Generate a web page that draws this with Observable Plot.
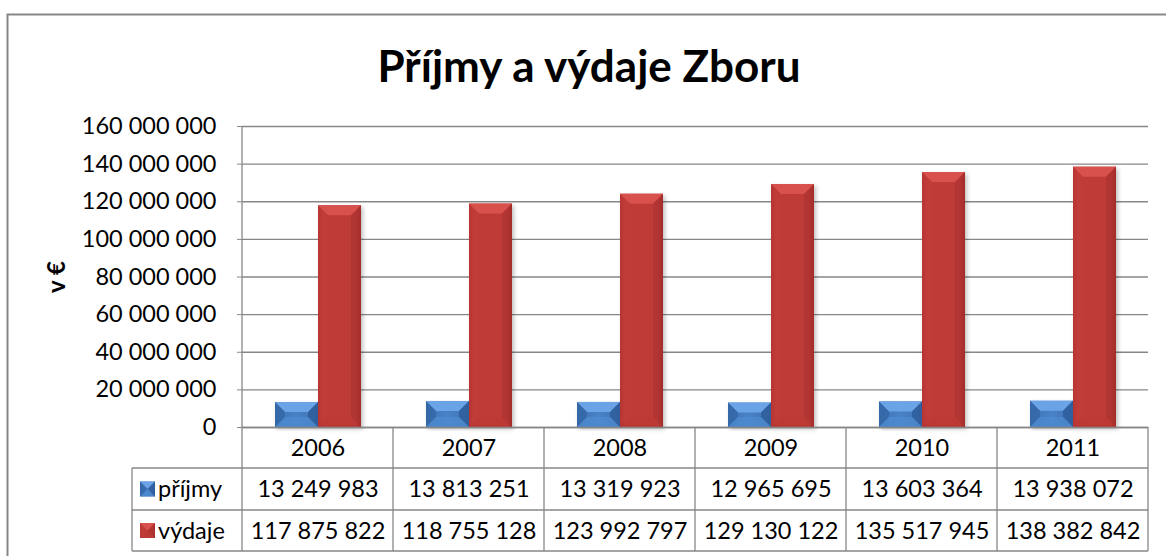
<!DOCTYPE html>
<html>
<head>
<meta charset="utf-8">
<script src="https://cdn.jsdelivr.net/npm/d3@7"></script>
<script src="https://cdn.jsdelivr.net/npm/@observablehq/plot@0.6"></script>
<style>
  html, body { margin: 0; padding: 0; background: white; }
  svg { display: block; }
</style>
</head>
<body>
<div id="chart"></div>
<script>
const title = "Příjmy a výdaje Zboru";
const yLabel = "v €";
const years = ["2006", "2007", "2008", "2009", "2010", "2011"];
const seriesNames = ["příjmy", "výdaje"];
const prijmy = [13249983, 13813251, 13319923, 12965695, 13603364, 13938072];
const vydaje = [117875822, 118755128, 123992797, 129130122, 135517945, 138382842];
const yTicks = [0, 20000000, 40000000, 60000000, 80000000, 100000000, 120000000, 140000000, 160000000];

const seriesValues = [prijmy, vydaje];
const data = years.flatMap((y, i) => seriesNames.map((s, k) => ({year: y, series: s, value: seriesValues[k][i]})));
const fmt = v => d3.format(",d")(v).replace(/,/g, " ");

const grid = "#878787";
const W = 1166, H = 556;
const mL = 240, mR = 17, mT = 126, mB = 129;
const rowH = [41, 42, 41]; // table rows heights

const fills = {"příjmy": "url(#gBlue)", "výdaje": "url(#gRed)"};

const plot = Plot.plot({
  width: W, height: H,
  marginLeft: mL, marginRight: mR, marginTop: mT, marginBottom: mB,
  style: {fontFamily: "Lato, 'Open Sans', sans-serif", fontSize: "23px", color: "black", background: "white", overflow: "visible"},
  fx: {domain: years, padding: 0, axis: null},
  x: {domain: seriesNames, paddingInner: 0, paddingOuter: 0.72, axis: null},
  y: {domain: [0, 160000000], axis: null},
  marks: [
    Plot.gridY(yTicks, {stroke: grid, strokeOpacity: 1, strokeWidth: 1.3}),
    Plot.axisY(yTicks, {tickFormat: fmt, tickSize: 5, tickPadding: 21, fontSize: 23.5, stroke: grid, label: null}),
    Plot.barY(data, {fx: "year", x: "series", y: "value", fill: d => fills[d.series]}),
    Plot.ruleY([0], {stroke: grid, strokeWidth: 1.3}),
    Plot.text(years, {fx: d => d, text: d => d, frameAnchor: "bottom", lineAnchor: "middle", dy: rowH[0] / 2, fontSize: 23.5}),
    Plot.text(years.map((y, i) => ({year: y, v: prijmy[i]})), {fx: "year", text: d => fmt(d.v), frameAnchor: "bottom", lineAnchor: "middle", dy: rowH[0] + rowH[1] / 2, fontSize: 23.5}),
    Plot.text(years.map((y, i) => ({year: y, v: vydaje[i]})), {fx: "year", text: d => fmt(d.v), frameAnchor: "bottom", lineAnchor: "middle", dy: rowH[0] + rowH[1] + rowH[2] / 2, fontSize: 23.5})
  ]
});

const svg = d3.select(plot);
// gradients and shadow
const defs = svg.insert("defs", ":first-child");
function hGrad(id, stops) {
  const g = defs.append("linearGradient").attr("id", id).attr("x1", 0).attr("x2", 1).attr("y1", 0).attr("y2", 0);
  stops.forEach(([o, c]) => g.append("stop").attr("offset", o).attr("stop-color", c));
}
hGrad("gBlue", [[0, "#3e73b5"], [0.5, "#4a82c6"], [1, "#3d70b0"]]);
hGrad("gRed", [[0, "#b3312f"], [0.12, "#be3b38"], [0.88, "#be3b38"], [1, "#a82d2a"]]);
const flt = defs.append("filter").attr("id", "shadow").attr("x", "-20%").attr("y", "-5%").attr("width", "150%").attr("height", "120%");
flt.append("feDropShadow").attr("dx", 2).attr("dy", 2).attr("stdDeviation", 2).attr("flood-color", "#000").attr("flood-opacity", 0.25);

const bevel = {
  "url(#gBlue)": {top: "#6aa3e6", left: "#2f609e", right: "#2b5995", bottom: "#4f8bd2", lo: 0.6, ro: 0.7, bo: 0.7},
  "url(#gRed)": {top: "#d8514d", left: "#c4403d", right: "#9c2a27", bottom: "#b43431", lo: 0.3, ro: 0.35, bo: 0.2}
};
function addBevel(parent, x, y, w, h, f) {
  const b = Math.min(10, w / 2, h / 2);
  const c = bevel[f];
  const g = parent.append("g");
  g.append("polygon").attr("points", [[x, y], [x + w, y], [x + w - b, y + b], [x + b, y + b]].join(" ")).attr("fill", c.top);
  g.append("polygon").attr("points", [[x, y], [x + b, y + b], [x + b, y + h - b], [x, y + h]].join(" ")).attr("fill", c.left).attr("opacity", c.lo);
  g.append("polygon").attr("points", [[x + w, y], [x + w, y + h], [x + w - b, y + h - b], [x + w - b, y + b]].join(" ")).attr("fill", c.right).attr("opacity", c.ro);
  g.append("polygon").attr("points", [[x, y + h], [x + b, y + h - b], [x + w - b, y + h - b], [x + w, y + h]].join(" ")).attr("fill", c.bottom).attr("opacity", c.bo);
}
svg.selectAll("g[aria-label='bar'] rect").each(function () {
  const r = d3.select(this);
  r.attr("filter", "url(#shadow)");
  const x = +r.attr("x"), y = +r.attr("y"), w = +r.attr("width"), h = +r.attr("height");
  addBevel(d3.select(this.parentNode), x, y, w, h, r.attr("fill"));
});

// table and axis lines
const fx = plot.scale("fx"), ys = plot.scale("y");
const y0 = ys.apply(0), yTop = ys.apply(160000000);
const xLeft = fx.apply(years[0]), xRight = fx.apply(years[years.length - 1]) + fx.bandwidth;
const r1 = y0 + rowH[0], r2 = r1 + rowH[1], r3 = r2 + rowH[2];
const legX = 132;
const lines = svg.append("g").attr("stroke", grid).attr("stroke-width", 1.3).attr("fill", "none");
lines.append("line").attr("x1", xLeft).attr("x2", xLeft).attr("y1", yTop).attr("y2", r3);
years.forEach(y => {
  const xe = fx.apply(y) + fx.bandwidth;
  lines.append("line").attr("x1", xe).attr("x2", xe).attr("y1", y0).attr("y2", r3);
});
lines.append("line").attr("x1", legX).attr("x2", legX).attr("y1", r1).attr("y2", r3);
[r1, r2, r3].forEach(yy => lines.append("line").attr("x1", legX).attr("x2", xRight).attr("y1", yy).attr("y2", yy));

// legend cells
const legFills = ["url(#gBlue)", "url(#gRed)"];
[[r1, r2], [r2, r3]].forEach(([a, b], k) => {
  const cy = (a + b) / 2;
  const s = 15;
  const gg = svg.append("g");
  gg.append("rect").attr("x", 140).attr("y", cy - s / 2).attr("width", s).attr("height", s).attr("fill", legFills[k]);
  addBevel(gg, 140, cy - s / 2, s, s, legFills[k]);
  svg.append("text").attr("x", 158).attr("y", cy).attr("dy", "0.35em").attr("text-anchor", "start")
    .attr("font-size", 23.5).attr("fill", "black").text(seriesNames[k]);
});

// title and y label
svg.append("text").attr("x", 589).attr("y", 82).attr("text-anchor", "middle")
  .attr("font-size", 44).attr("font-weight", "bold").attr("fill", "black").text(title);
svg.append("text").attr("transform", "translate(65,277) rotate(-90)").attr("text-anchor", "middle")
  .attr("font-size", 24).attr("font-weight", "bold").attr("fill", "black").text(yLabel);

// outer border
svg.append("rect").attr("x", 7.5).attr("y", 14.5).attr("width", W).attr("height", H)
  .attr("fill", "none").attr("stroke", grid).attr("stroke-width", 2);

document.getElementById("chart").appendChild(plot);
</script>
</body>
</html>
